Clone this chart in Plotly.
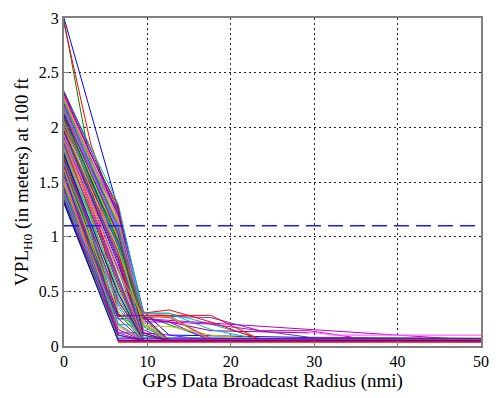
import plotly.graph_objects as go

N = None
# x positions (nmi) at which the VPL curves were sampled
X_GRID = [0, 3.2, 6.5, 9.5, 12.6, 17.6, 23.5, 29.4, 34.6, 50]

# VPL_H0 values (m) at X_GRID; None = no vertex at that radius
SERIES = [
    [3.00, N, 1.25, 0.32, 0.10, N, N, N, N, 0.05],
    [2.98, 1.65, 1.10, 0.28, N, 0.06, N, N, N, 0.06],
    [2.95, 1.85, 1.15, 0.20, 0.06, N, N, N, N, 0.05],
    [2.32, N, 1.30, 0.30, 0.30, 0.20, 0.07, N, N, 0.07],
    [2.28, N, 1.22, 0.25, N, N, N, N, N, 0.05],
    [2.25, N, 1.15, 0.05, N, N, N, N, N, 0.05],
    [2.22, N, 1.20, 0.12, 0.05, N, N, N, N, 0.05],
    [2.20, N, 1.05, 0.05, N, N, N, N, N, 0.05],
    [2.18, N, 1.10, 0.30, 0.28, 0.06, N, N, N, 0.06],
    [2.15, N, 1.00, 0.05, N, N, N, N, N, 0.05],
    [2.12, N, 0.95, 0.08, N, N, N, N, N, 0.05],
    [2.10, N, 1.12, 0.26, 0.27, 0.26, 0.14, 0.08, N, 0.07],
    [2.08, N, 0.90, 0.05, N, N, N, N, N, 0.05],
    [2.05, N, 0.85, 0.05, N, N, N, N, N, 0.04],
    [2.03, N, 0.98, 0.20, 0.06, N, N, N, N, 0.06],
    [2.00, N, 0.80, 0.05, N, N, N, N, N, 0.05],
    [1.98, N, 0.75, 0.05, N, N, N, N, N, 0.05],
    [1.96, N, 0.70, 0.05, N, N, N, N, N, 0.06],
    [1.94, N, 0.95, 0.30, 0.33, 0.22, 0.06, N, N, 0.06],
    [1.92, N, 0.65, 0.05, N, N, N, N, N, 0.05],
    [1.90, N, 0.60, 0.05, N, N, N, N, N, 0.05],
    [1.88, N, 0.05, N, N, N, N, N, N, 0.05],
    [1.86, N, 0.55, 0.05, N, N, N, N, N, 0.05],
    [1.84, N, 0.27, 0.27, 0.05, N, N, N, N, 0.05],
    [1.82, N, 0.50, 0.05, N, N, N, N, N, 0.05],
    [1.80, N, 0.05, N, N, N, N, N, N, 0.05],
    [1.78, N, 0.45, 0.05, N, N, N, N, N, 0.04],
    [1.76, N, 0.40, 0.10, 0.05, N, N, N, N, 0.05],
    [1.74, N, 0.05, N, N, N, N, N, N, 0.05],
    [1.72, N, 0.35, 0.05, N, N, N, N, N, 0.05],
    [1.70, N, 0.05, N, N, N, N, N, N, 0.06],
    [1.68, N, 0.25, 0.25, 0.22, 0.14, 0.13, 0.12, N, N],
    [1.66, N, 0.05, N, N, N, N, N, N, 0.05],
    [1.64, N, 0.30, 0.05, N, N, N, N, N, 0.05],
    [1.62, N, 0.05, N, N, N, N, N, N, 0.05],
    [1.60, N, 0.20, 0.18, 0.05, N, N, N, N, 0.05],
    [1.58, N, 0.05, N, N, N, N, N, N, 0.05],
    [1.56, N, 0.15, 0.05, N, N, N, N, N, 0.05],
    [1.54, N, 0.05, N, N, N, N, N, N, 0.04],
    [1.52, N, 0.12, 0.12, 0.10, 0.05, N, N, N, 0.05],
    [1.50, N, 0.05, N, N, N, N, N, N, 0.05],
    [1.48, N, 0.05, N, N, N, N, N, N, 0.05],
    [1.46, N, 0.25, 0.20, 0.05, N, N, N, N, 0.05],
    [1.44, N, 0.05, N, N, N, N, N, N, 0.05],
    [1.42, N, 0.05, N, N, N, N, N, N, 0.06],
    [1.40, N, 0.08, N, N, N, N, N, N, 0.05],
    [1.38, N, 0.05, N, N, N, N, N, N, 0.05],
    [1.35, N, 0.05, N, N, N, N, N, N, 0.05],
    [1.32, N, 0.05, N, N, N, N, N, N, 0.05],
    [1.30, N, 0.05, N, N, N, N, N, N, 0.05],
    [2.30, 1.75, 1.28, 0.05, N, N, N, N, N, 0.05],
    [2.24, 1.70, 1.18, 0.28, 0.28, 0.05, N, N, N, 0.05],
    [2.16, 1.62, 1.25, 0.15, 0.05, N, N, N, N, 0.05],
    [2.06, 1.55, 1.15, 0.05, N, N, N, N, N, 0.05],
    [1.97, 1.45, 1.05, 0.05, N, N, N, N, N, 0.05],
    [1.91, 1.38, 0.95, 0.22, 0.22, 0.05, N, N, N, 0.05],
    [1.85, 1.30, 0.05, N, N, N, N, N, N, 0.05],
    [1.79, 1.25, 0.05, N, N, N, N, N, N, 0.05],
    [1.73, 1.20, 0.05, N, N, N, N, N, N, 0.05],
    [1.69, 1.10, 0.05, N, N, N, N, N, N, 0.05],
    [1.63, 1.05, 0.05, N, N, N, N, N, N, 0.05],
    [1.57, 1.00, 0.05, N, N, N, N, N, N, 0.05],
    [1.51, 0.95, 0.05, N, N, N, N, N, N, 0.05],
    [1.45, 0.85, 0.05, N, N, N, N, N, N, 0.05],
    [1.37, 0.80, 0.05, N, N, N, N, N, N, 0.05],
    [1.33, 0.75, 0.05, N, N, N, N, N, N, 0.05],
    [2.02, 1.50, 0.28, 0.28, 0.28, 0.28, 0.06, N, N, 0.06],
    [1.95, 1.40, 0.85, 0.30, 0.30, 0.15, 0.06, N, N, 0.06],
    [1.87, 1.35, 0.70, 0.25, 0.22, 0.20, 0.14, 0.14, 0.08, N],
    [1.81, 1.32, 0.60, 0.18, 0.18, 0.10, 0.06, N, N, 0.06],
    [2.33, N, 1.24, 0.10, 0.05, N, N, N, N, 0.05],
    [2.31, N, 1.20, 0.05, N, N, N, N, N, 0.05],
    [2.27, N, 1.17, 0.22, 0.06, N, N, N, N, 0.06],
    [2.26, N, 1.12, 0.05, N, N, N, N, N, 0.05],
    [2.23, N, 1.10, 0.18, 0.05, N, N, N, N, 0.05],
    [2.21, N, 1.08, 0.05, N, N, N, N, N, 0.05],
    [2.19, N, 1.02, 0.28, 0.26, 0.07, N, N, N, 0.07],
    [2.17, N, 1.05, 0.05, N, N, N, N, N, 0.05],
    [2.14, N, 0.98, 0.05, N, N, N, N, N, 0.05],
    [2.13, N, 1.02, 0.12, 0.05, N, N, N, N, 0.05],
    [2.11, N, 0.92, 0.05, N, N, N, N, N, 0.04],
    [2.09, N, 0.96, 0.25, 0.05, N, N, N, N, 0.05],
    [2.07, N, 0.86, 0.05, N, N, N, N, N, 0.05],
    [2.04, N, 0.93, 0.05, N, N, N, N, N, 0.05],
    [2.01, N, 0.82, 0.05, N, N, N, N, N, 0.05],
    [1.99, N, 0.88, 0.20, 0.05, N, N, N, N, 0.05],
    [1.97, N, 0.78, 0.05, N, N, N, N, N, 0.06],
    [1.95, N, 0.62, 0.05, N, N, N, N, N, 0.05],
    [1.93, N, 0.72, 0.05, N, N, N, N, N, 0.05],
    [1.89, N, 0.68, 0.27, 0.27, 0.05, N, N, N, 0.05],
    [1.87, N, 0.48, 0.05, N, N, N, N, N, 0.05],
    [1.85, N, 0.58, 0.05, N, N, N, N, N, 0.05],
    [1.83, N, 0.62, 0.05, N, N, N, N, N, 0.05],
    [1.81, N, 0.38, 0.05, N, N, N, N, N, 0.05],
    [1.79, N, 0.52, 0.05, N, N, N, N, N, 0.06],
    [1.77, N, 0.28, 0.28, 0.05, N, N, N, N, 0.05],
    [1.75, N, 0.48, 0.05, N, N, N, N, N, 0.05],
    [1.73, N, 0.20, 0.05, N, N, N, N, N, 0.05],
    [1.71, N, 0.42, 0.05, N, N, N, N, N, 0.05],
    [1.67, N, 0.38, 0.05, N, N, N, N, N, 0.05],
    [1.65, N, 0.15, 0.05, N, N, N, N, N, 0.05],
    [1.61, N, 0.32, 0.05, N, N, N, N, N, 0.05],
    [1.59, N, 0.10, 0.05, N, N, N, N, N, 0.05],
    [1.55, N, 0.25, 0.05, N, N, N, N, N, 0.05],
    [1.53, N, 0.05, N, N, N, N, N, N, 0.05],
    [1.49, N, 0.18, 0.05, N, N, N, N, N, 0.05],
    [1.47, N, 0.05, N, N, N, N, N, N, 0.04],
    [1.43, N, 0.12, 0.05, N, N, N, N, N, 0.05],
    [1.41, N, 0.05, N, N, N, N, N, N, 0.05],
    [1.39, N, 0.20, 0.05, N, N, N, N, N, 0.05],
    [1.36, N, 0.05, N, N, N, N, N, N, 0.05],
    [1.34, N, 0.10, 0.05, N, N, N, N, N, 0.05],
    [1.31, N, 0.05, N, N, N, N, N, N, 0.05],
]

# long flat tails near the floor, drawn last (on top)
TAIL_X = [[29.4, 32.5, 50], [6.5, 50], [6.5, 50], [6.5, 50]]
TAIL_Y = [[0.13, 0.10, 0.10], [0.065, 0.065], [0.045, 0.045], [0.035, 0.035]]
TAIL_COLORS = ['#ff66ff', '#6a00c8', '#cc0066', '#ff0000']

COLORS = ['#0000ff', '#008000', '#ff0000', '#00bfbf', '#bf00bf', '#bfbf00',
          '#404040', '#8000ff', '#ff66cc', '#ff8000', '#00cc66', '#6633cc',
          '#cc3366', '#3399ff', '#66cc00', '#990099']

THRESHOLD = 1.1
X_RANGE = [0, 50]
Y_RANGE = [0, 3]

fig = go.Figure()
for i, ys in enumerate(SERIES):
    fig.add_trace(go.Scatter(
        x=X_GRID, y=ys, mode='lines', connectgaps=True,
        line=dict(color=COLORS[i % len(COLORS)], width=1),
        showlegend=False, hoverinfo='skip'))

for tx, ty, tc in zip(TAIL_X, TAIL_Y, TAIL_COLORS):
    fig.add_trace(go.Scatter(
        x=tx, y=ty, mode='lines', line=dict(color=tc, width=1.3),
        showlegend=False, hoverinfo='skip'))

fig.add_trace(go.Scatter(
    x=X_RANGE, y=[THRESHOLD, THRESHOLD], mode='lines',
    line=dict(color='#1a1aff', width=1.3, dash='15px,7px'),
    showlegend=False, hoverinfo='skip'))

font = 'Liberation Serif'
axis_common = dict(
    showline=True, mirror=True, linecolor='#808080', linewidth=2,
    showgrid=True, gridcolor='#222222', gridwidth=1, griddash='2px,3px',
    zeroline=False, ticks='inside', ticklen=5, tickcolor='#808080',
    tickfont=dict(family=font, size=16, color='black'),
)
fig.update_xaxes(range=X_RANGE, dtick=10, **axis_common,
                 title=dict(text='GPS Data Broadcast Radius (nmi)',
                            font=dict(family=font, size=19, color='black'),
                            standoff=2))
fig.update_yaxes(range=Y_RANGE, dtick=0.5, **axis_common,
                 title=dict(text='VPL<sub>H0</sub> (in meters) at 100 ft',
                            font=dict(family=font, size=19, color='black'),
                            standoff=5))
fig.update_layout(
    width=499, height=398, autosize=False,
    font=dict(family=font, color='black'),
    margin=dict(l=64, r=10, t=11, b=52),
    paper_bgcolor='white', plot_bgcolor='white',
)
fig.write_html('out.html')
